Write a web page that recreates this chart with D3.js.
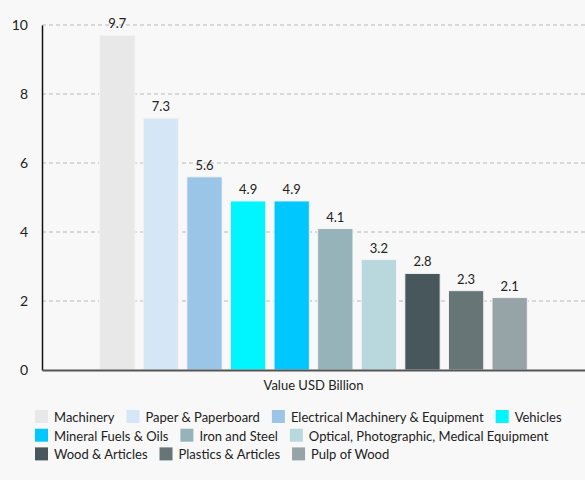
<!DOCTYPE html>
<html>
<head>
<meta charset="utf-8">
<script src="https://cdnjs.cloudflare.com/ajax/libs/d3/7.8.5/d3.min.js"></script>
<style>
  body { margin: 0; background: #f8f8f8; }
  svg { font-family: Lato, "Open Sans", sans-serif; }
</style>
</head>
<body>
<div id="chart"></div>
<script>
// chart data
var categories = ["Machinery", "Paper & Paperboard", "Electrical Machinery & Equipment", "Vehicles",
  "Mineral Fuels & Oils", "Iron and Steel", "Optical, Photographic, Medical Equipment",
  "Wood & Articles", "Plastics & Articles", "Pulp of Wood"];
var values = [9.7, 7.3, 5.6, 4.9, 4.9, 4.1, 3.2, 2.8, 2.3, 2.1];
var colors = ["#e8e8e8", "#d5e7f7", "#9ac5e7", "#00f6ff", "#00c8ff", "#95b3b8",
  "#b8d8dd", "#48575c", "#677577", "#96a4a7"];
var yTicks = [0, 2, 4, 6, 8, 10];
var groupLabel = "Value USD Billion";

var svgWidth = 585;
var svgHeight = 480;

var margin = { top: 25, right: 0, bottom: 110, left: 42 };

var width = svgWidth - margin.left - margin.right;
var height = svgHeight - margin.top - margin.bottom;

var svg = d3.select("#chart")
  .append("svg")
  .attr("width", svgWidth)
  .attr("height", svgHeight);

var chartGroup = svg.append("g")
  .attr("transform", `translate(${margin.left},${margin.top})`);

var x0 = d3.scaleBand()
  .domain([groupLabel])
  .range([0, width])
  .padding(0.1);

var x1 = d3.scaleBand()
  .domain(categories)
  .range([0, x0.bandwidth()])
  .padding(0.19);

var y = d3.scaleLinear()
  .domain([0, 10])
  .range([height, 0]);

// grid lines
chartGroup.append("g")
  .selectAll("line")
  .data(yTicks.filter(d => d > 0))
  .enter()
  .append("line")
  .attr("x1", 0)
  .attr("x2", width)
  .attr("y1", d => y(d))
  .attr("y2", d => y(d))
  .attr("stroke", "#b8b8b8")
  .attr("stroke-dasharray", "4,3");

// bars
var barGroup = chartGroup.append("g")
  .attr("transform", `translate(${x0(groupLabel)},0)`);

barGroup.selectAll("rect")
  .data(values)
  .enter()
  .append("rect")
  .attr("x", (d, i) => x1(categories[i]))
  .attr("y", d => y(d))
  .attr("width", x1.bandwidth())
  .attr("height", d => height - y(d))
  .attr("fill", (d, i) => colors[i])
  .attr("stroke", "#f4f4f4")
  .attr("stroke-width", 1);

barGroup.selectAll("text")
  .data(values)
  .enter()
  .append("text")
  .attr("x", (d, i) => x1(categories[i]) + x1.bandwidth() / 2)
  .attr("y", d => y(d) - 7)
  .attr("text-anchor", "middle")
  .attr("font-size", "13px")
  .attr("fill", "#222")
  .text(d => d.toFixed(1));

// y axis
var leftAxis = d3.axisLeft(y).tickValues(yTicks).tickSize(0).tickPadding(14);
var yAxis = chartGroup.append("g").call(leftAxis);
yAxis.select(".domain").attr("stroke", "#111").attr("stroke-width", 1.5);
yAxis.selectAll(".tick text").attr("font-size", "14px").attr("fill", "#222")
  .attr("font-family", "Lato, sans-serif");

// x axis
var bottomAxis = d3.axisBottom(x0).tickSize(0).tickPadding(11);
var xAxis = chartGroup.append("g")
  .attr("transform", `translate(0, ${height})`)
  .call(bottomAxis);
xAxis.select(".domain").attr("stroke", "#555").attr("stroke-width", 2);
xAxis.selectAll(".tick text").attr("font-size", "13px").attr("fill", "#222")
  .attr("font-family", "Lato, sans-serif");

// legend (flow layout)
var legend = svg.append("g");
var lx = 35, ly = 410, maxX = 578;
categories.forEach(function(name, i) {
  var item = legend.append("g");
  item.append("rect")
    .attr("width", 13)
    .attr("height", 13)
    .attr("fill", colors[i]);
  var t = item.append("text")
    .attr("x", 19)
    .attr("y", 12)
    .attr("font-size", "13px")
    .attr("fill", "#222")
    .text(name);
  var w = 19 + t.node().getComputedTextLength();
  if (lx + w > maxX) {
    lx = 35;
    ly += 18.7;
  }
  item.attr("transform", `translate(${lx},${ly})`);
  lx += w + 12;
});
</script>
</body>
</html>
